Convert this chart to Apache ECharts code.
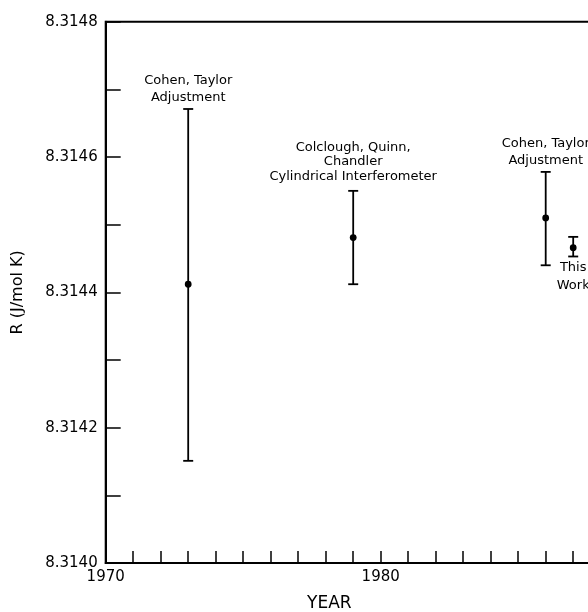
<!DOCTYPE html>
<html>
<head>
<meta charset="utf-8">
<script src="https://cdn.jsdelivr.net/npm/echarts@6/dist/echarts.min.js"></script>
<style>
  html, body { margin: 0; padding: 0; background: #fff; }
  #chart { width: 588px; height: 612px; }
</style>
</head>
<body>
<div id="chart"></div>
<script>
// data
var years  = [1973, 1979, 1986, 1987];
var values = [8.314412, 8.314481, 8.314510, 8.314466];
var upper  = [8.314671, 8.314550, 8.314578, 8.314482];
var lower  = [8.314151, 8.314412, 8.314440, 8.314453];
var labels = [
  'Cohen, Taylor\nAdjustment',
  'Colclough, Quinn,\nChandler\nCylindrical Interferometer',
  'Cohen, Taylor\nAdjustment',
  'This\nWork'
];

// label styling (not data)
var labelBelow = [false, false, false, true];
var labelLineHeight = [17, 14.5, 17, 18];
var labelGap = [2.5, 7, 2.5, 2];

var FONT = 'DejaVu Sans';

var chart = echarts.init(document.getElementById('chart'));

var seriesData = years.map(function (y, i) {
  return [y, values[i], lower[i], upper[i]];
});

function renderItem(params, api) {
  var x = api.value(0);
  var pMid = api.coord([x, api.value(1)]);
  var pLo = api.coord([x, api.value(2)]);
  var pHi = api.coord([x, api.value(3)]);
  var i = params.dataIndex;
  var cap = 5;
  var ls = { stroke: '#000', lineWidth: 1.8 };
  var below = labelBelow[i];
  var txt = {
    type: 'text',
    style: {
      text: labels[i],
      x: pMid[0],
      y: below ? pLo[1] + labelGap[i] : pHi[1] - labelGap[i],
      align: 'center',
      verticalAlign: below ? 'top' : 'bottom',
      font: '13px "' + FONT + '"',
      lineHeight: labelLineHeight[i],
      fill: '#000'
    }
  };
  return {
    type: 'group',
    children: [
      { type: 'line', shape: { x1: pHi[0], y1: pHi[1], x2: pLo[0], y2: pLo[1] }, style: ls },
      { type: 'line', shape: { x1: pHi[0] - cap, y1: pHi[1], x2: pHi[0] + cap, y2: pHi[1] }, style: ls },
      { type: 'line', shape: { x1: pLo[0] - cap, y1: pLo[1], x2: pLo[0] + cap, y2: pLo[1] }, style: ls },
      { type: 'circle', shape: { cx: pMid[0], cy: pMid[1], r: 3.4 }, style: { fill: '#000' } },
      txt
    ]
  };
}

chart.setOption({
  animation: false,
  grid: {
    left: 105.7,
    right: -12.7,
    top: 21.7,
    bottom: 49,
    show: true,
    borderColor: '#000',
    borderWidth: 2,
    outerBoundsMode: 'none'
  },
  xAxis: {
    type: 'value',
    min: 1970,
    max: 1988,
    interval: 1,
    axisLine: { lineStyle: { color: '#000', width: 2 } },
    axisTick: { inside: true, length: 12, lineStyle: { color: '#000', width: 1.5 } },
    axisLabel: {
      margin: 7,
      color: '#000',
      fontFamily: FONT,
      fontSize: 15,
      formatter: function (v) { return v % 10 === 0 ? String(v) : ''; }
    },
    splitLine: { show: false }
  },
  yAxis: {
    type: 'value',
    min: 8.3140,
    max: 8.3148,
    interval: 0.0001,
    name: 'R (J/mol K)',
    nameLocation: 'middle',
    nameGap: 80,
    nameTextStyle: { color: '#000', fontFamily: FONT, fontSize: 16 },
    axisLine: { lineStyle: { color: '#000', width: 2 } },
    axisTick: { inside: true, length: 15, lineStyle: { color: '#000', width: 1.5 } },
    axisLabel: {
      margin: 8,
      color: '#000',
      fontFamily: FONT,
      fontSize: 15,
      formatter: function (v) {
        return Math.round(v * 10000) % 2 === 0 ? v.toFixed(4) : '';
      }
    },
    splitLine: { show: false }
  },
  graphic: [{
    type: 'text',
    left: 307,
    top: 595,
    style: { text: 'YEAR', font: '17px "' + FONT + '"', fill: '#000' }
  }],
  series: [{
    type: 'custom',
    renderItem: renderItem,
    clip: false,
    data: seriesData
  }]
});
</script>
</body>
</html>
